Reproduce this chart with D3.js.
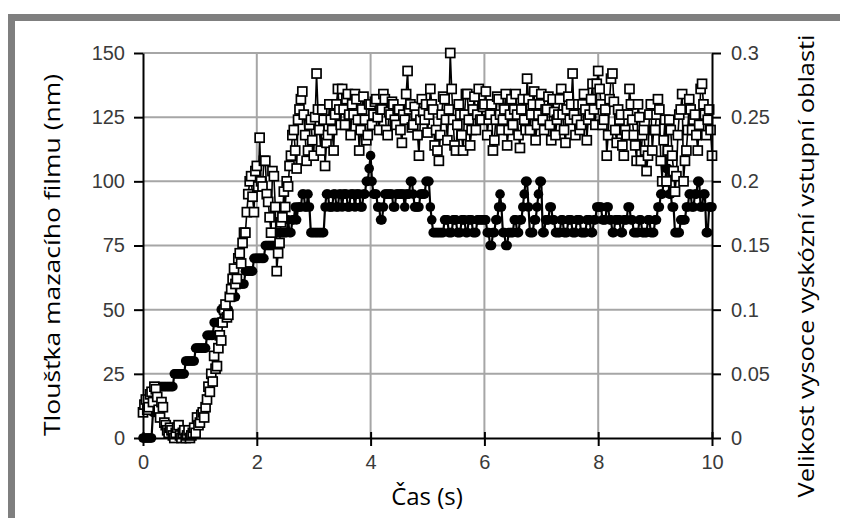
<!DOCTYPE html>
<html><head><meta charset="utf-8">
<script src="https://cdn.jsdelivr.net/npm/d3@7/dist/d3.min.js"></script>
<style>body{margin:0;background:#fff}svg{display:block}</style>
</head><body><svg id="c" width="842" height="518"></svg>
<script>
// ---- data ----
const sampleInterval = 0.025; // s
const filmThickness = [ // nm, left axis
10,13,15,11,12,17,18,14,20,19,16,11,8,14,12,6,5,3,2,4,
3,1,0,2,4,5,1,0,2,3,0,1,3,0,1,2,4,2,8,5,
6,9,10,8,12,15,20,18,25,22,32,27,28,35,40,38,45,50,52,47,
48,55,58,62,66,60,62,70,72,68,76,80,80,88,95,100,102,94,88,104,
106,98,117,100,98,108,108,95,92,86,80,104,102,90,65,72,76,84,86,96,
90,100,98,106,110,118,120,112,105,124,128,132,135,126,118,108,112,122,124,116,
110,125,142,128,120,112,128,124,106,115,118,130,124,120,112,126,130,136,128,122,
136,128,122,132,134,126,118,130,126,134,132,124,112,120,128,133,124,116,118,130,
130,122,126,131,132,125,120,128,128,134,132,120,118,127,126,131,130,124,122,128,
128,120,115,126,124,134,143,128,130,121,122,129,126,118,110,124,132,127,124,130,
119,126,136,130,128,114,120,112,108,118,126,133,132,124,116,128,150,136,124,114,
112,122,130,126,118,112,126,134,134,124,114,120,128,133,120,126,136,124,124,129,
130,135,118,124,126,130,112,116,124,133,132,126,120,124,128,134,114,120,126,132,
122,128,134,126,118,113,128,132,124,120,140,132,120,126,130,135,116,122,126,130,
134,124,120,128,128,133,122,116,132,127,118,124,126,132,136,126,120,115,128,133,
124,130,142,126,118,124,130,120,122,130,134,128,116,124,126,132,138,128,122,138,
143,136,130,122,124,128,110,118,132,140,142,131,120,115,128,124,126,114,110,120,
118,126,136,130,124,118,114,108,130,125,108,118,120,112,104,110,126,130,112,120,
120,126,132,128,108,100,116,124,100,112,124,120,110,104,96,102,118,126,128,134,
100,108,112,120,132,128,120,124,126,118,112,122,136,138,130,126,118,124,128,120,
110];
const entrySize = [ // right axis
0,0,0,0,0,0,0,0.02,0.02,0.03,0.03,0.04,0.04,0.04,0.04,0.04,0.04,0.04,0.04,0.04,
0.04,0.04,0.05,0.05,0.05,0.05,0.05,0.05,0.05,0.05,0.06,0.06,0.06,0.06,0.06,0.06,0.06,0.07,0.07,0.07,
0.07,0.07,0.07,0.07,0.07,0.08,0.08,0.08,0.08,0.08,0.09,0.09,0.09,0.09,0.09,0.10,0.10,0.10,0.10,0.10,
0.10,0.11,0.11,0.11,0.11,0.11,0.12,0.12,0.12,0.12,0.12,0.12,0.13,0.13,0.13,0.13,0.13,0.13,0.14,0.14,
0.14,0.14,0.14,0.14,0.14,0.14,0.15,0.15,0.15,0.15,0.15,0.15,0.15,0.15,0.16,0.16,0.16,0.16,0.16,0.16,
0.16,0.16,0.17,0.16,0.16,0.17,0.17,0.18,0.17,0.18,0.18,0.18,0.19,0.19,0.18,0.18,0.19,0.18,0.16,0.16,
0.16,0.16,0.16,0.16,0.16,0.16,0.16,0.16,0.18,0.19,0.19,0.18,0.18,0.18,0.19,0.19,0.18,0.18,0.19,0.19,
0.18,0.19,0.19,0.19,0.18,0.18,0.19,0.19,0.19,0.18,0.19,0.19,0.19,0.18,0.18,0.19,0.19,0.20,0.20,0.21,
0.22,0.20,0.19,0.19,0.19,0.18,0.18,0.17,0.17,0.18,0.19,0.19,0.19,0.19,0.19,0.19,0.18,0.18,0.19,0.19,
0.19,0.19,0.19,0.19,0.18,0.19,0.19,0.19,0.20,0.20,0.19,0.18,0.18,0.18,0.18,0.19,0.19,0.19,0.19,0.20,
0.20,0.20,0.18,0.17,0.16,0.16,0.16,0.16,0.16,0.16,0.16,0.16,0.17,0.17,0.17,0.16,0.16,0.16,0.17,0.17,
0.17,0.16,0.16,0.16,0.17,0.17,0.17,0.16,0.16,0.17,0.17,0.17,0.16,0.16,0.16,0.17,0.17,0.17,0.17,0.17,
0.17,0.17,0.16,0.16,0.15,0.15,0.16,0.16,0.17,0.17,0.18,0.19,0.18,0.16,0.16,0.15,0.15,0.16,0.16,0.16,
0.16,0.17,0.17,0.16,0.16,0.17,0.17,0.18,0.19,0.20,0.20,0.18,0.16,0.16,0.16,0.17,0.17,0.18,0.19,0.20,
0.20,0.16,0.16,0.17,0.17,0.17,0.18,0.18,0.17,0.17,0.16,0.16,0.16,0.16,0.17,0.17,0.16,0.16,0.16,0.17,
0.17,0.17,0.16,0.16,0.16,0.17,0.17,0.17,0.16,0.16,0.16,0.16,0.17,0.17,0.17,0.16,0.16,0.17,0.17,0.18,
0.18,0.18,0.18,0.17,0.17,0.17,0.18,0.18,0.17,0.17,0.16,0.16,0.17,0.17,0.17,0.17,0.16,0.16,0.17,0.17,
0.17,0.18,0.18,0.17,0.17,0.16,0.16,0.16,0.16,0.17,0.17,0.16,0.16,0.16,0.16,0.17,0.17,0.16,0.16,0.16,
0.17,0.17,0.18,0.18,0.19,0.19,0.20,0.20,0.21,0.21,0.19,0.19,0.18,0.18,0.16,0.16,0.16,0.16,0.17,0.17,
0.17,0.17,0.18,0.18,0.19,0.19,0.18,0.18,0.19,0.19,0.20,0.20,0.18,0.18,0.19,0.19,0.16,0.16,0.18,0.18,
0.18];
const xTicks = [0, 2, 4, 6, 8, 10];
const leftTicks = [0, 25, 50, 75, 100, 125, 150];
const rightTicks = [0, 0.05, 0.1, 0.15, 0.2, 0.25, 0.3];
const xTitle = "Čas (s)";
const leftTitle = "Tloušťka mazacího filmu (nm)";
const rightTitle = "Velikost vysoce vyskózní vstupní oblasti";

// ---- chart ----
const svg = d3.select("#c");
const x = d3.scaleLinear().domain([0, 10]).range([143, 712]);
const yL = d3.scaleLinear().domain([0, 150]).range([438, 53]);
const yR = d3.scaleLinear().domain([0, 0.3]).range([438, 53]);
const times = d3.range(filmThickness.length).map(i => i * sampleInterval);

// frame
svg.append("rect").attr("x", 8).attr("y", 14).attr("width", 832).attr("height", 7).attr("fill", "#7f7f7f");
svg.append("rect").attr("x", 8).attr("y", 14).attr("width", 7).attr("height", 504).attr("fill", "#7f7f7f");

// grid
const grid = svg.append("g").attr("stroke", "#a6a6a6").attr("stroke-width", 2);
grid.selectAll("line.h").data(leftTicks.filter(d => d > 0)).join("line")
  .attr("x1", x(0)).attr("x2", x(10)).attr("y1", d => yL(d)).attr("y2", d => yL(d));
grid.selectAll("line.v").data(xTicks.filter(d => d > 0 && d < 10)).join("line")
  .attr("x1", d => x(d)).attr("x2", d => x(d)).attr("y1", yL(150)).attr("y2", yL(0));

const tickFont = "'Liberation Sans', Arial, sans-serif";
function styleAxis(g) {
  g.select(".domain").attr("stroke", "#000").attr("stroke-width", 2);
  g.selectAll(".tick line").attr("stroke", "#000").attr("stroke-width", 2);
  g.selectAll(".tick text").attr("fill", "#3a3a3a").style("font-family", tickFont).style("font-size", "20px");
}

// series
const lineE = d3.line().x((d, i) => x(times[i])).y(d => yR(d));
svg.append("path").datum(entrySize).attr("d", lineE).attr("fill", "none").attr("stroke", "#000").attr("stroke-width", 2.2);
svg.append("g").selectAll("circle").data(entrySize).join("circle")
  .attr("cx", (d, i) => x(times[i])).attr("cy", d => yR(d)).attr("r", 4.8).attr("fill", "#000");

const lineF = d3.line().x((d, i) => x(times[i])).y(d => yL(d));
svg.append("path").datum(filmThickness).attr("d", lineF).attr("fill", "none").attr("stroke", "#000").attr("stroke-width", 1.6);
svg.append("g").selectAll("rect").data(filmThickness).join("rect")
  .attr("x", (d, i) => x(times[i]) - 4.5).attr("y", d => yL(d) - 4.5)
  .attr("width", 9).attr("height", 9).attr("fill", "#fff").attr("stroke", "#000").attr("stroke-width", 1.7);

// axes
svg.append("g").attr("transform", `translate(${x(0)},0)`)
  .call(d3.axisLeft(yL).tickValues(leftTicks).tickSize(9).tickSizeOuter(0).tickPadding(9)).call(styleAxis);
svg.append("g").attr("transform", `translate(${x(10)},0)`)
  .call(d3.axisRight(yR).tickValues(rightTicks).tickFormat(d3.format("~g")).tickSize(9).tickSizeOuter(0).tickPadding(10)).call(styleAxis);
const xg = svg.append("g").attr("transform", `translate(0,${yL(0)})`)
  .call(d3.axisBottom(x).tickValues(xTicks).tickSize(8).tickSizeOuter(0).tickPadding(9)).call(styleAxis);
xg.selectAll(".tick line").attr("y1", -6);

// titles
const titleFont = "'Open Sans', 'Noto Sans', sans-serif";
svg.append("text").attr("x", 427).attr("y", 505).attr("text-anchor", "middle")
  .style("font-family", titleFont).style("font-size", "24px").attr("fill", "#000").text(xTitle);
svg.append("text").attr("transform", "translate(60,255) rotate(-90)").attr("text-anchor", "middle")
  .attr("textLength", 362).attr("lengthAdjust", "spacingAndGlyphs")
  .style("font-family", titleFont).style("font-size", "22px").attr("fill", "#000").text(leftTitle);
svg.append("text").attr("transform", "translate(814,266) rotate(-90)").attr("text-anchor", "middle")
  .attr("textLength", 463).attr("lengthAdjust", "spacingAndGlyphs")
  .style("font-family", titleFont).style("font-size", "22px").attr("fill", "#000").text(rightTitle);
</script></body></html>
